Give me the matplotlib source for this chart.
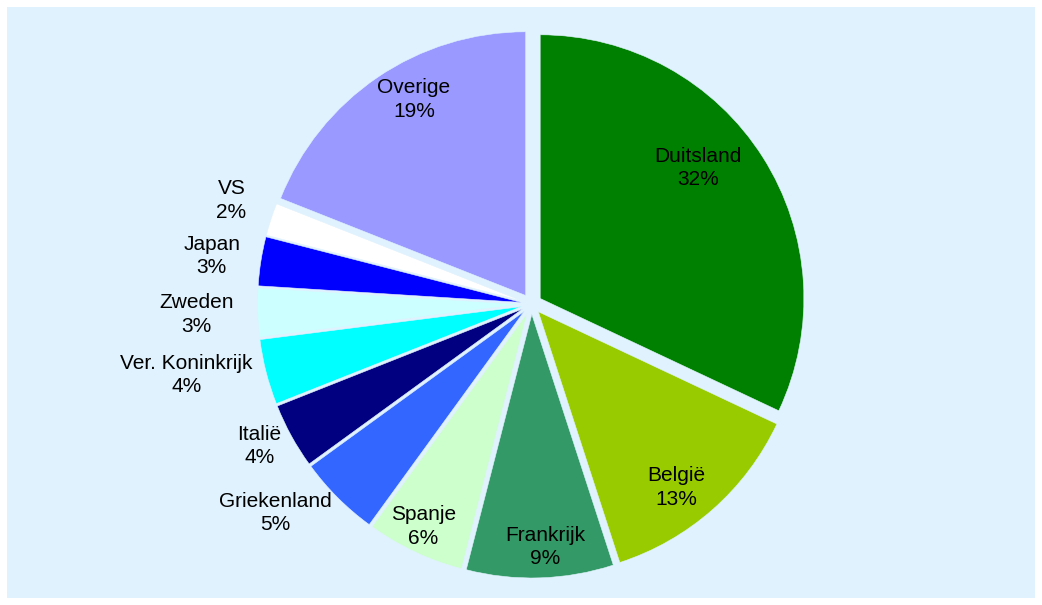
import numpy as np
import matplotlib
matplotlib.use("Agg")
import matplotlib.pyplot as plt
from matplotlib.patches import Rectangle

# export shares per country (%)
landen = ["Duitsland", "België", "Frankrijk", "Spanje", "Griekenland", "Italië",
          "Ver. Koninkrijk", "Zweden", "Japan", "VS", "Overige"]
aandeel = [32, 13, 9, 6, 5, 4, 4, 3, 3, 2, 19]
kleuren = ["#008000", "#99CC00", "#339966", "#CCFFCC", "#3366FF", "#000080",
           "#00FFFF", "#CCFFFF", "#0000FF", "#FFFFFF", "#9999FF"]

bg = "#E0F2FD"
W, H = 1042, 605
fig = plt.figure(figsize=(W / 100, H / 100), dpi=100, facecolor="white")
fig.patches.append(Rectangle((7 / W, 7 / H), (W - 14) / W, (H - 14) / H,
                             transform=fig.transFigure, facecolor=bg,
                             edgecolor="none", zorder=-10))

# pie centre and radius in pixels
cx, cy, R = 531.5, 605 - 304, 263.7
lim = 1.2
side = 2 * lim * R
ax = fig.add_axes([(cx - side / 2) / W, (cy - side / 2) / H, side / W, side / H])

# every slice pulled out by the same amount (like an exploded Excel pie)
explode = [0.039] * len(aandeel)
wedges, _ = ax.pie(aandeel, colors=kleuren, startangle=90, counterclock=False,
                   explode=explode, radius=1,
                   wedgeprops=dict(edgecolor=bg, linewidth=0.4))
ax.set_xlim(-lim, lim)
ax.set_ylim(-lim, lim)
ax.set_aspect("equal")
ax.axis("off")

# label placement: distance from centre (radii), angle tweak (deg), inside?
afstand = [0.815, 0.887, 0.922, 0.937, 1.095, 1.09, 1.09, 1.13, 1.12, 1.15, 0.895]
hoek = [6.8, -3.0, 1.4, -0.7, 1.3, 0.8, -0.1, 0.2, -0.4, -2.0, -4.3]
binnen = [True, True, True, True, False, False, False, False, False, False, True]

tot = sum(aandeel)
cum = 0
for i, (naam, v) in enumerate(zip(landen, aandeel)):
    mid = 90 - 360 * (cum + v / 2) / tot
    cum += v
    a = np.deg2rad(mid + hoek[i])
    x, y = afstand[i] * np.cos(a), afstand[i] * np.sin(a)
    ax.text(x, y, f"{naam}\n{v}%", ha="center" if binnen[i] else "right",
            va="center", multialignment="center", fontsize=15,
            family="Liberation Sans", color="black", linespacing=1.3)

fig.savefig("out.png", dpi=100, facecolor=fig.get_facecolor())
